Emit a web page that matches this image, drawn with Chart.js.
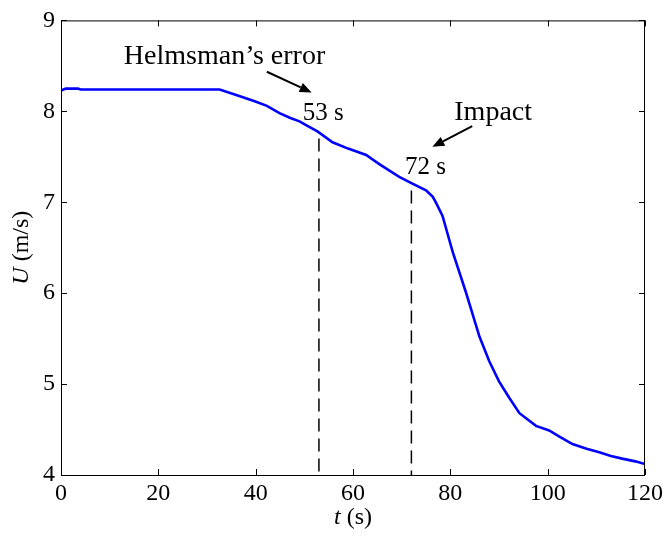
<!DOCTYPE html>
<html>
<head>
<meta charset="utf-8">
<script src="https://cdn.jsdelivr.net/npm/chart.js@4.4.1/dist/chart.umd.min.js"></script>
<style>
  body { margin: 0; background: #fff; }
  #wrap { width: 667px; height: 538px; position: relative; }
</style>
</head>
<body>
<div id="wrap"><canvas id="speedChart"></canvas></div>
<script>
// ship speed U (m/s) vs time t (s)
const timeS = [0, 1, 2, 3.5, 4, 10, 20, 30, 32.6, 36, 39.8, 42.3, 44.9, 47, 49, 51, 52.7, 55.8, 59, 62.7, 65.4, 69.5, 72, 75, 76.4, 77.1, 78.4, 80.5, 83.2, 86, 88, 90, 92.1, 94.2, 97.6, 100.3, 102.5, 105.1, 108, 110.6, 113, 115.3, 118, 120];
const speedU = [8.23, 8.25, 8.25, 8.25, 8.24, 8.24, 8.24, 8.24, 8.24, 8.18, 8.11, 8.06, 7.98, 7.93, 7.89, 7.83, 7.78, 7.66, 7.59, 7.52, 7.42, 7.28, 7.21, 7.13, 7.06, 6.99, 6.85, 6.45, 6.01, 5.52, 5.25, 5.03, 4.85, 4.68, 4.54, 4.49, 4.42, 4.34, 4.29, 4.25, 4.21, 4.18, 4.15, 4.12];

// event markers (dashed verticals)
const eventTimes = [53, 72];
const eventTopU = [7.70, 7.13];

const xTicks = [0, 20, 40, 60, 80, 100, 120];
const yTicks = [4, 5, 6, 7, 8, 9];

// annotation text + arrows, in data units
const notes = [
  { text: "Helmsman\u2019s error", t: 33.6, u: 8.52, size: 28 },
  { text: "53 s", t: 53.9, u: 7.91, size: 25 },
  { text: "Impact", t: 88.8, u: 7.90, size: 28 },
  { text: "72 s", t: 74.9, u: 7.31, size: 25 }
];
const arrows = [
  { from: [42.3, 8.435], to: [51.5, 8.207] },
  { from: [84.5, 7.837], to: [76.3, 7.609] }
];

const FONT = "'Liberation Serif', 'Times New Roman', serif";

const curve = timeS.map((t, i) => ({ x: t, y: speedU[i] }));
const eventSets = eventTimes.map((t, i) => ({
  data: [{ x: t, y: eventTopU[i] }, { x: t, y: 4 }],
  borderColor: "#000",
  borderWidth: 1.5,
  borderDash: [13, 7],
  pointRadius: 0,
  fill: false
}));

const boxPlugin = {
  id: "box",
  afterDraw(chart) {
    const { ctx, chartArea: a, scales } = chart;
    const xs = scales.x, ys = scales.y;
    ctx.save();
    ctx.strokeStyle = "#000";
    ctx.lineWidth = 1;
    ctx.strokeRect(a.left + 0.5, a.top + 0.5, a.right - a.left - 1, a.bottom - a.top);
    // inward ticks on all four sides
    const tl = 6;
    ctx.beginPath();
    xTicks.forEach(v => {
      const px = Math.round(xs.getPixelForValue(v)) + 0.5;
      ctx.moveTo(px, a.bottom); ctx.lineTo(px, a.bottom - tl);
      ctx.moveTo(px, a.top); ctx.lineTo(px, a.top + tl);
    });
    yTicks.forEach(v => {
      const py = Math.round(ys.getPixelForValue(v)) + 0.5;
      ctx.moveTo(a.left, py); ctx.lineTo(a.left + tl, py);
      ctx.moveTo(a.right, py); ctx.lineTo(a.right - tl, py);
    });
    ctx.stroke();

    // axis titles (italic symbol + upright unit)
    ctx.fillStyle = "#000";
    ctx.textBaseline = "middle";
    const drawTitle = (sym, unit, cx, cy, rot) => {
      ctx.save();
      ctx.translate(cx, cy);
      ctx.rotate(rot);
      ctx.font = "italic 24px " + FONT;
      const w1 = ctx.measureText(sym).width;
      ctx.font = "24px " + FONT;
      const w2 = ctx.measureText(unit).width;
      let x0 = -(w1 + w2) / 2;
      ctx.font = "italic 24px " + FONT;
      ctx.textAlign = "left";
      ctx.fillText(sym, x0, 0);
      ctx.font = "24px " + FONT;
      ctx.fillText(unit, x0 + w1, 0);
      ctx.restore();
    };
    drawTitle("t", " (s)", (a.left + a.right) / 2, 518, 0);
    drawTitle("U", " (m/s)", 22, (a.top + a.bottom) / 2, -Math.PI / 2);

    // annotations
    ctx.textAlign = "center";
    ctx.textBaseline = "alphabetic";
    notes.forEach(n => {
      ctx.font = n.size + "px " + FONT;
      ctx.fillText(n.text, xs.getPixelForValue(n.t), ys.getPixelForValue(n.u));
    });
    arrows.forEach(ar => {
      const x1 = xs.getPixelForValue(ar.from[0]), y1 = ys.getPixelForValue(ar.from[1]);
      const x2 = xs.getPixelForValue(ar.to[0]), y2 = ys.getPixelForValue(ar.to[1]);
      const ang = Math.atan2(y2 - y1, x2 - x1);
      const hl = 12, hw = 5;
      const bx = x2 - hl * Math.cos(ang), by = y2 - hl * Math.sin(ang);
      ctx.lineWidth = 2;
      ctx.beginPath();
      ctx.moveTo(x1, y1); ctx.lineTo(bx, by);
      ctx.stroke();
      ctx.beginPath();
      ctx.moveTo(x2, y2);
      ctx.lineTo(bx + hw * Math.sin(ang), by - hw * Math.cos(ang));
      ctx.lineTo(bx - hw * Math.sin(ang), by + hw * Math.cos(ang));
      ctx.closePath();
      ctx.fill();
    });
    ctx.restore();
  }
};

new Chart(document.getElementById("speedChart"), {
  type: "line",
  data: {
    datasets: [
      {
        data: curve,
        borderColor: "#0000ff",
        borderWidth: 2.6,
        pointRadius: 0,
        tension: 0,
        fill: false
      },
      ...eventSets
    ]
  },
  options: {
    responsive: true,
    maintainAspectRatio: false,
    animation: false,
    devicePixelRatio: 1,
    layout: { padding: { top: 15, right: 21, left: 0, bottom: 0 } },
    plugins: { legend: { display: false }, tooltip: { enabled: false } },
    scales: {
      x: {
        type: "linear",
        min: 0,
        max: 120,
        afterFit: s => { s.height = 63; },
        afterBuildTicks: s => { s.ticks = xTicks.map(v => ({ value: v })); },
        grid: { display: false, drawTicks: false },
        border: { display: false },
        ticks: { color: "#000", padding: 4, maxRotation: 0, font: { family: FONT, size: 24 } }
      },
      y: {
        min: 4,
        max: 9,
        afterFit: s => { s.width = 61; },
        afterBuildTicks: s => { s.ticks = yTicks.map(v => ({ value: v })); },
        grid: { display: false, drawTicks: false },
        border: { display: false },
        ticks: { color: "#000", padding: 6, font: { family: FONT, size: 24 } }
      }
    }
  },
  plugins: [boxPlugin]
});
</script>
</body>
</html>
